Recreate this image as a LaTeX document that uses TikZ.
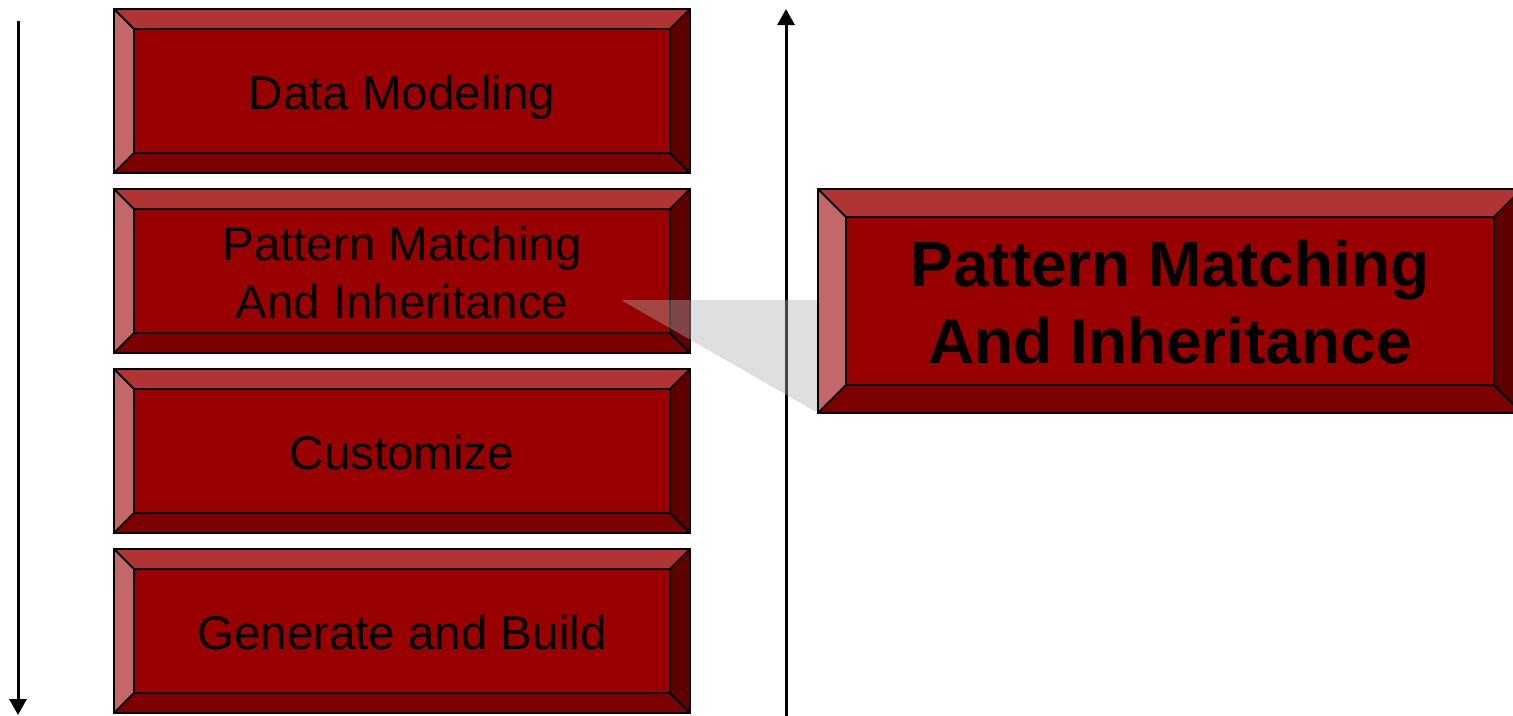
\documentclass[tikz,border=0pt]{standalone}
\usepackage{fontspec}
\setmainfont{Liberation Sans}
\usetikzlibrary{arrows.meta,calc}
\definecolor{boxmain}{HTML}{990000}
\definecolor{boxtop}{HTML}{B03434}
\definecolor{boxleft}{HTML}{C26868}
\definecolor{boxbottom}{HTML}{7C0000}
\definecolor{boxright}{HTML}{5E0000}
\definecolor{calloutgray}{HTML}{B0B0B0}
\tikzset{
  outerline/.style={draw=black,line width=2.8pt,line join=miter},
  innerline/.style={draw=black,line width=1.8pt,line join=miter},
  smalltext/.style={font=\fontsize{47.5}{58}\selectfont,align=center,anchor=base,inner sep=0pt,text=black},
  bigtext/.style={font=\fontsize{64}{76.7}\selectfont\bfseries,align=center,anchor=base,inner sep=0pt,text=black},
  axisline/.style={draw=black,line width=3pt,-{Triangle[width=17pt,length=16pt]}},
  callout/.style={fill=calloutgray,fill opacity=0.4}
}
\newcommand\bevbox[9]{%
  \coordinate (#1-A) at (#2,#3);
  \coordinate (#1-B) at (#4,#3);
  \coordinate (#1-C) at (#4,#5);
  \coordinate (#1-D) at (#2,#5);
  \coordinate (#1-a) at ($(#1-A)+(#6,#7)$);
  \coordinate (#1-b) at ($(#1-B)+(-#8,#7)$);
  \coordinate (#1-c) at ($(#1-C)+(-#8,-#9)$);
  \coordinate (#1-d) at ($(#1-D)+(#6,-#9)$);
  \fill[boxmain] (#1-a) rectangle (#1-c);
  \fill[boxtop] (#1-A) -- (#1-B) -- (#1-b) -- (#1-a) -- cycle;
  \fill[boxleft] (#1-A) -- (#1-a) -- (#1-d) -- (#1-D) -- cycle;
  \fill[boxbottom] (#1-D) -- (#1-d) -- (#1-c) -- (#1-C) -- cycle;
  \fill[boxright] (#1-B) -- (#1-C) -- (#1-c) -- (#1-b) -- cycle;
  \draw[innerline] (#1-a) rectangle (#1-c);
  \draw[innerline] (#1-A) -- (#1-a) (#1-B) -- (#1-b) (#1-C) -- (#1-c) (#1-D) -- (#1-d);
  \draw[outerline] (#1-A) rectangle (#1-C);
}
\begin{document}
\begin{tikzpicture}[x=1pt,y=-1pt]
\useasboundingbox (0,0) rectangle (1513,715);
\clip (0,0) rectangle (1513,715);
% left axis
\coordinate (lefttop) at (18,21);
\coordinate (leftbot) at (18,715);
\draw[axisline] (lefttop) -- (leftbot);
% middle axis
\coordinate (midbot) at (786,720);
\coordinate (midtop) at (786,9);
\draw[axisline] (midbot) -- (midtop);
% boxes
\bevbox{b1}{114}{9}{690}{173}{20}{20}{20}{20}
\bevbox{b2}{114}{189}{690}{353}{20}{20}{20}{20}
\bevbox{b3}{114}{369}{690}{533}{20}{20}{20}{20}
\bevbox{b4}{114}{549}{690}{713}{20}{20}{20}{20}
\node[smalltext] (t1) at (402,109) {Data Modeling};
\node[smalltext] (t2) at (402,318) {Pattern Matching\\And Inheritance};
\node[smalltext] (t3) at (402,469) {Customize};
\node[smalltext] (t4) at (402,649) {Generate and Build};
% callout
\coordinate (capex) at (621,300);
\coordinate (ctop) at (818,300);
\coordinate (cbot) at (818,413);
\fill[callout] (capex) -- (ctop) -- (cbot) -- cycle;
% big box
\bevbox{bb}{818}{189}{1522}{413}{28}{28}{28}{28}
\node[bigtext] (tb) at (1170,363.3) {Pattern Matching\\And Inheritance};
\end{tikzpicture}
\end{document}
